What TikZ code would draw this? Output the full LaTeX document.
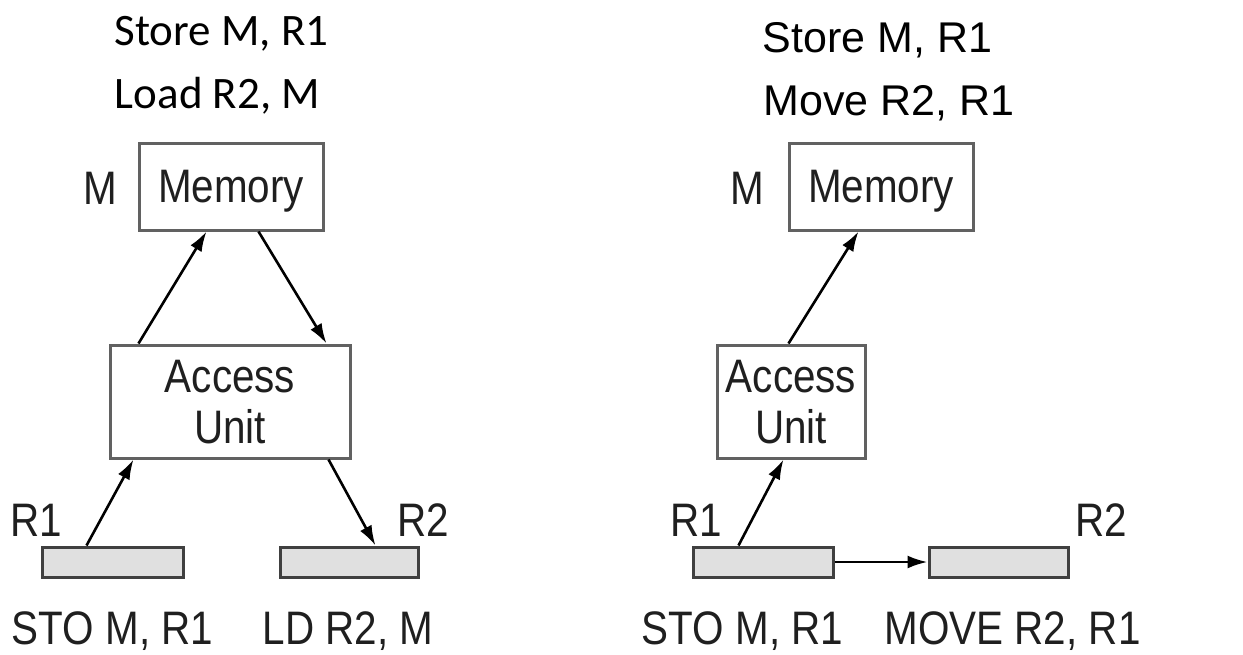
\documentclass[tikz,border=0pt]{standalone}
\usepackage{fontspec}
\setmainfont{Liberation Sans}
\newfontfamily\carlito{Carlito}
\usetikzlibrary{arrows.meta}
\newcommand{\lbl}[1]{\scalebox{0.86}[1]{#1}}
\begin{document}
\begin{tikzpicture}[x=1pt,y=-1pt,
  lblfont/.style={font=\fontsize{47}{51}\selectfont, text=black!88},
  unitbox/.style={draw=black!62, line width=3pt, fill=white, inner sep=0pt, lblfont, align=center, text depth=0pt},
  regbox/.style={draw=black!75, line width=3pt, fill=black!12, inner sep=0pt, minimum height=30pt},
  txt/.style={lblfont, anchor=base, inner sep=0pt},
  ttl/.style={anchor=base, inner sep=0pt, text=black},
  conn/.style={line width=2.6pt, -{Latex[length=20pt,width=13pt]}}]
\useasboundingbox (0,0) rectangle (1243,654);
% ---------- left panel ----------
\node[ttl, font=\carlito\fontsize{45}{50}\selectfont] (tl1) at (221.5,45) {Store M, R1};
\node[ttl, font=\carlito\fontsize{45}{50}\selectfont] (tl2) at (217.5,108) {Load R2, M};
\node[unitbox, minimum width=184pt, minimum height=87pt] (memL) at (231,186.5) {\lbl{Memory}};
\node[txt] (mL) at (100,204) {\lbl{M}};
\node[unitbox, minimum width=240pt, minimum height=113pt] (accL) at (230,401.5) {\lbl{Access}\\\lbl{Unit}};
\node[regbox, minimum width=141pt] (r1L) at (112.5,562) {};
\node[regbox, minimum width=138pt] (r2L) at (349,562) {};
\node[txt] (r1Llab) at (36,536) {\lbl{R1}};
\node[txt] (r2Llab) at (423.5,536) {\lbl{R2}};
\node[txt] (stoL) at (112.5,644) {\lbl{STO M, R1}};
\node[txt] (ldL) at (348,644) {\lbl{LD R2, M}};
\draw[conn] ([xshift=30pt]accL.north west) -- ([xshift=69pt]memL.south west);
\draw[conn] ([xshift=121pt]memL.south west) -- ([xshift=218pt]accL.north west);
\draw[conn] ([xshift=46pt]r1L.north west) -- ([xshift=25pt]accL.south west);
\draw[conn] ([xshift=220pt]accL.south west) -- ([xshift=97pt]r2L.north west);
% ---------- right panel ----------
\node[ttl, font=\fontsize{43}{48}\selectfont] (tr1) at (877.5,52) {Store M, R1};
\node[ttl, font=\fontsize{43}{48}\selectfont] (tr2) at (889,115) {Move R2, R1};
\node[unitbox, minimum width=184pt, minimum height=87pt] (memR) at (881,186.5) {\lbl{Memory}};
\node[txt] (mR) at (747,204) {\lbl{M}};
\node[unitbox, minimum width=148pt, minimum height=113pt] (accR) at (791,401.5) {\lbl{Access}\\\lbl{Unit}};
\node[regbox, minimum width=140pt] (r1R) at (763,562) {};
\node[regbox, minimum width=139pt] (r2R) at (998.5,562) {};
\node[txt] (r1Rlab) at (696.5,536) {\lbl{R1}};
\node[txt] (r2Rlab) at (1101,536) {\lbl{R2}};
\node[txt] (stoR) at (742.5,644) {\lbl{STO M, R1}};
\node[txt] (mvR) at (1012.5,644) {\lbl{MOVE R2, R1}};
\draw[conn] ([xshift=73pt]accR.north west) -- ([xshift=71pt]memR.south west);
\draw[conn] ([xshift=47pt]r1R.north west) -- ([xshift=68pt]accR.south west);
\draw[conn] (r1R.east) -- (r2R.west);
\end{tikzpicture}
\end{document}
